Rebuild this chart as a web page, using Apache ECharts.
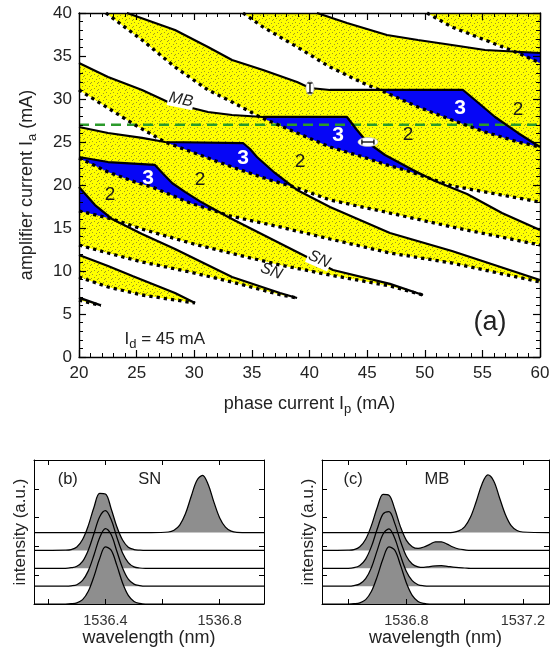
<!DOCTYPE html>
<html>
<head>
<meta charset="utf-8">
<script src="https://cdn.jsdelivr.net/npm/echarts@6.0.0/dist/echarts.min.js"></script>
<style>html,body{margin:0;padding:0;background:#fff;}#chart{width:560px;height:649px;}</style>
</head>
<body>
<div id="chart"></div>
<script>
// ===== panel (a): boundary curves, points are [phase current Ip (mA), amplifier current Ia (mA)] =====
// solid lines (SN / MB bifurcations) = upper edges of the bistability tongues
const solidMB = [[20,34.19],[22.52,32.56],[25.47,31.05],[27.72,29.65],[31.19,28.49],[33.28,28.14],[35.97,27.91],[43.25,27.91],[44.12,26.40],[44.99,25.00],[46.55,23.49],[48.98,21.74],[50.89,20.47],[53.67,18.95],[56.70,16.74],[60,14.77]];
const solidB  = [[24.16,40],[28.33,38.02],[31.19,36.05],[33.28,34.53],[35.97,33.37],[38.92,31.98],[40.04,31.28],[41.78,31.05],[53.32,31.05],[54.36,29.88],[56.10,27.91],[58.09,26.05],[60,24.42]];
const solidD  = [[40.65,40],[43.25,38.84],[46.72,37.44],[49.41,36.86],[52.36,36.28],[55.23,35.70],[60,35.35]];
const solidH  = [[20,26.74],[22.52,26.05],[25.47,25.47],[27.46,25.00],[34.23,24.88],[34.84,24.19],[35.44,23.26],[37.0,21.40],[38.92,19.42],[41.78,17.44],[46.98,14.42],[52.36,12.33],[60,8.95]];
const solidI  = [[20,23.26],[22.52,22.67],[26.59,22.33],[27.3,21.3],[28.1,20.2],[29.2,19.2],[30.5,18.1],[33.1,16.16],[39.78,11.63],[42.04,10.12],[46.98,8.5],[49.85,7.21]];
const solidK  = [[20,19.77],[21.39,17.67],[22.86,16.05],[25.47,14.30],[28.33,12.56],[33.28,9.30],[37.44,7.44],[38.92,6.86]];
const solidW  = [[20,11.86],[22.52,10.58],[24.69,9.40],[28.33,7.44],[30.07,6.28]];
const solidT  = [[20,6.9],[21.9,6.0]];
// dotted lines = lower edges of the tongues
const dotE = [[50.20,40],[52.36,38.37],[55.23,36.86],[58.09,35.35],[60,34.19]];
const dotC = [[34.23,40],[35.97,38.37],[38.92,36.05],[41.78,33.72],[44.64,31.86],[46.72,30.70],[49.41,29.07],[52.36,27.56],[55.23,26.16],[58.09,25.0],[60,24.42]];
const dotA = [[22.34,40],[25.47,36.86],[28.33,33.72],[31.19,31.05],[33.28,29.65],[35.70,27.91],[38.92,26.05],[41.78,24.42],[44.64,23.26],[46.72,22.33],[48.29,21.74],[52.36,19.9],[55.23,19.19],[60,18.02]];
const dotG = [[20,31.05],[22.52,28.95],[24.86,26.98],[27.46,25.00],[31.19,23.14],[33.28,22.09],[36.57,20.58],[38.92,19.65],[41.78,18.26],[46.98,16.74],[52.36,15.12],[60,13.02]];
const dotJ = [[20,23.14],[22.52,21.51],[24.86,20.35],[26.33,19.77],[29.63,17.91],[33.10,16.40],[37.44,15.12],[41.78,13.72],[46.98,12.09],[52.36,10.93],[60,8.72]];
const dotL = [[20,16.98],[22.86,16.05],[25.47,14.88],[29.63,13.26],[33.1,12.09],[37.44,10.70],[41.78,9.53],[46.98,8.26],[49.85,7.21]];
const dotN = [[20,13.02],[22.52,12.09],[25.47,11.05],[29.63,9.88],[33.28,8.72],[37.44,7.25],[38.92,6.86]];
const dotW = [[20,9.30],[22.52,8.14],[25.47,7.21],[28.33,6.63],[30.07,6.28]];
const dotT = [[20,6.6],[21.9,6.0]];
const dashedIa = 27;            // green dashed line, Ia = 27 mA
const xTicksA = [20, 60, 5];    // min, max, step
const yTicksA = [0, 40, 5];

// ===== panels (b) and (c): optical spectra =====
const traceOffsets = [0, 0.62, 1.24, 1.86, 2.48];
const bWave = [1536.15,1536.26,1536.28,1536.30,1536.32,1536.34,1536.36,1536.38,1536.40,1536.42,1536.44,1536.46,1536.48,1536.50,1536.52,1536.54,1536.56,1536.62,1536.64,1536.66,1536.68,1536.70,1536.72,1536.74,1536.76,1536.78,1536.80,1536.82,1536.84,1536.86,1536.955];
const bTrace1 = [0,0,0.01,0.04,0.15,0.44,0.96,1.58,1.98,1.87,1.34,0.73,0.30,0.09,0.02,0,0,0,0,0,0,0,0,0,0,0,0,0,0,0,0];
const bTrace2 = [0,0,0.01,0.05,0.20,0.53,1.08,1.69,2.00,1.79,1.21,0.63,0.24,0.07,0.02,0,0,0,0,0,0,0,0,0,0,0,0,0,0,0,0];
const bTrace3 = [0,0,0.02,0.07,0.24,0.63,1.21,1.79,2.00,1.69,1.08,0.53,0.20,0.05,0.01,0,0,0,0,0,0,0,0,0,0,0,0,0,0,0,0];
const bTrace4 = [0,0.01,0.03,0.12,0.38,0.86,1.50,1.98,1.96,1.45,0.82,0.36,0.11,0.03,0.01,0,0,0,0,0,0,0,0,0,0,0,0,0,0,0,0];
const bTrace5 = [0,0,0,0,0,0,0,0,0,0,0,0,0,0,0,0,0,0.02,0.08,0.26,0.65,1.25,1.81,1.99,1.66,1.05,0.51,0.19,0.05,0.01,0];
const cWave = [1536.51,1536.60,1536.62,1536.64,1536.66,1536.68,1536.70,1536.72,1536.74,1536.76,1536.78,1536.80,1536.82,1536.84,1536.86,1536.88,1536.90,1536.92,1536.94,1536.96,1536.98,1537.00,1537.02,1537.04,1537.06,1537.08,1537.10,1537.12,1537.14,1537.16,1537.18,1537.20,1537.29];
const cTrace1 = [0,0,0.01,0.04,0.15,0.44,0.96,1.58,1.98,1.87,1.34,0.73,0.30,0.09,0.02,0,0,0,0,0,0,0,0,0,0,0,0,0,0,0,0,0,0];
const cTrace2 = [0,0,0.02,0.08,0.26,0.65,1.25,1.81,1.99,1.66,1.05,0.51,0.19,0.05,0.01,0,0,0,0,0,0,0,0,0,0,0,0,0,0,0,0,0,0];
const cTrace3 = [0,0,0.02,0.10,0.32,0.76,1.37,1.89,1.97,1.56,0.93,0.42,0.15,0.05,0.03,0.06,0.08,0.09,0.07,0.04,0.02,0.01,0,0,0,0,0,0,0,0,0,0,0];
const cTrace4 = [0,0.01,0.03,0.13,0.39,0.87,1.50,1.95,1.92,1.44,0.81,0.35,0.13,0.07,0.12,0.21,0.30,0.30,0.22,0.12,0.05,0.02,0,0,0,0,0,0,0,0,0,0,0];
const cTrace5 = [0,0,0,0,0,0,0,0,0,0,0,0,0,0,0,0,0,0,0,0.01,0.06,0.20,0.53,1.08,1.69,2.00,1.79,1.21,0.63,0.24,0.07,0.02,0];

// ================= drawing =================
const FONT = "'Liberation Sans', Arial, Helvetica, sans-serif";
const TXT = '#222';

function lin(p, q, x) { const dx = q[0] - p[0]; return Math.abs(dx) < 1e-12 ? p[1] : p[1] + (x - p[0]) / dx * (q[1] - p[1]); }
function mk(pts) { return { pts: pts, top: pts[0][1] >= 40 - 1e-9 && pts[0][0] > 20 }; }
function ext(c) { return c.top ? [[20, 40]].concat(c.pts) : c.pts; }
function evalC(c, x) {
  const p = ext(c);
  if (x < p[0][0] - 1e-9 || x > p[p.length - 1][0] + 1e-9) return NaN;
  for (let i = 0; i < p.length - 1; i++) if (x <= p[i + 1][0] + 1e-12) return lin(p[i], p[i + 1], Math.max(x, p[i][0]));
  return p[p.length - 1][1];
}
function crossings(a, b) {
  const out = [];
  for (let i = 0; i < a.length - 1; i++) for (let j = 0; j < b.length - 1; j++) {
    const x0 = Math.max(a[i][0], b[j][0]), x1 = Math.min(a[i + 1][0], b[j + 1][0]);
    if (x1 <= x0) continue;
    const d0 = lin(a[i], a[i + 1], x0) - lin(b[j], b[j + 1], x0);
    const d1 = lin(a[i], a[i + 1], x1) - lin(b[j], b[j + 1], x1);
    if (d0 * d1 < 0) out.push(x0 + (x1 - x0) * d0 / (d0 - d1));
  }
  return out;
}
const TOPC = mk([[20, 40], [60, 40]]);
function region(los, his) {
  const H = his.concat([TOPC]);
  const all = los.concat(H);
  let xs = [20, 60];
  all.forEach(c => ext(c).forEach(p => xs.push(p[0])));
  for (let i = 0; i < all.length; i++) for (let j = i + 1; j < all.length; j++) crossings(ext(all[i]), ext(all[j])).forEach(x => xs.push(x));
  xs.sort((a, b) => a - b);
  const u = [];
  xs.forEach(x => { if (x < 20 - 1e-9 || x > 60 + 1e-9) return; if (!u.length || x - u[u.length - 1] > 1e-9) u.push(x); });
  const q = u.map(x => {
    let lo = -Infinity, hi = Infinity, ok = true;
    los.forEach(c => { const v = evalC(c, x); if (isNaN(v)) ok = false; else lo = Math.max(lo, v); });
    H.forEach(c => { const v = evalC(c, x); if (isNaN(v)) ok = false; else hi = Math.min(hi, v); });
    return { x: x, lo: lo, hi: hi, ok: ok, d: ok ? hi - lo : -Infinity };
  });
  const runs = []; let run = null;
  for (let k = 0; k < q.length; k++) {
    const e = q[k];
    if (e.ok && e.d > 1e-6) {
      if (!run) { run = []; const pr = q[k - 1]; if (pr && pr.ok && Math.abs(pr.d) < 1e-3) run.push(pr); }
      run.push(e);
    } else if (run) {
      if (e.ok && Math.abs(e.d) < 1e-3) run.push(e);
      runs.push(run); run = null;
    }
  }
  if (run) runs.push(run);
  return runs.map(r => r.map(e => [e.x, e.hi]).concat(r.slice().reverse().map(e => [e.x, e.lo])));
}

const tongues = [
  [dotE, null], [dotC, solidD], [dotA, solidB], [dotG, solidMB], [dotJ, solidH],
  [dotL, solidI], [dotN, solidK], [dotW, solidW], [dotT, solidT]
].map(t => ({ lo: mk(t[0]), hi: t[1] ? mk(t[1]) : null }));

let yellowPolys = [], bluePolys = [];
tongues.forEach(t => { yellowPolys = yellowPolys.concat(region([t.lo], t.hi ? [t.hi] : [])); });
for (let i = 0; i < tongues.length; i++) for (let j = i + 1; j < tongues.length; j++) {
  const a = tongues[i], b = tongues[j];
  bluePolys = bluePolys.concat(region([a.lo, b.lo], [a.hi, b.hi].filter(Boolean)));
}

function speckle(base, dot) {
  const c = document.createElement('canvas'); c.width = 7; c.height = 7;
  const g = c.getContext('2d'); g.fillStyle = base; g.fillRect(0, 0, 7, 7);
  g.fillStyle = dot; [[1, 1], [5, 2], [3, 4], [0, 5], [6, 6]].forEach(p => g.fillRect(p[0], p[1], 1, 1));
  return { image: c, repeat: 'repeat' };
}
const yellowFill = speckle('#ffff00', '#9d9a20');
const blueFill = '#0606f6';

function polySeries(polys, fill, z) {
  return {
    type: 'custom', xAxisIndex: 0, yAxisIndex: 0, z: z, silent: true, clip: true,
    data: polys.map(p => p[0]),
    renderItem: (params, api) => ({ type: 'polygon', shape: { points: polys[params.dataIndex].map(p => api.coord(p)) }, style: { fill: fill } })
  };
}
function lineSeries(pts, dotted) {
  return {
    type: 'line', xAxisIndex: 0, yAxisIndex: 0, data: pts, showSymbol: false, symbol: 'none', silent: true, z: 5, clip: true,
    lineStyle: dotted ? { color: '#000', width: 3.3, type: [3.3, 4], cap: 'butt' } : { color: '#000', width: 2.2 }
  };
}
function textSeries(items, xi, yi) {
  return {
    type: 'custom', xAxisIndex: xi, yAxisIndex: yi, z: 8, silent: true, clip: false,
    data: items.map(it => [it.x, it.y]),
    renderItem: (params, api) => {
      const it = items[params.dataIndex];
      const p = api.coord([it.x, it.y]);
      return { type: 'text', x: p[0], y: p[1], rotation: it.rot || 0,
        style: Object.assign({ text: it.text, fontFamily: FONT, fontSize: 16, fill: TXT, align: it.align || 'center', verticalAlign: 'middle' }, it.style || {}) };
    }
  };
}

const twoPos = [[22.69, 18.84], [30.5, 20.58], [39.18, 22.67], [48.55, 25.81], [58.09, 28.72]];
const threePos = [[25.99, 20.81], [34.23, 23.14], [42.47, 25.81], [53.06, 28.95]];
const aLabels = []
  .concat(twoPos.map(p => ({ x: p[0], y: p[1], text: '2', style: { fontSize: 19, fill: '#1a1a1a' } })))
  .concat(threePos.map(p => ({ x: p[0], y: p[1], text: '3', style: { fontSize: 21, fontWeight: 'bold', fill: '#fff' } })))
  .concat([
    { x: 28.85, y: 29.9, text: 'MB', rot: -0.2, style: { fontSize: 16, fontStyle: 'italic', backgroundColor: '#fff', padding: [0, 1, 0, 1] } },
    { x: 40.85, y: 11.36, text: 'SN', rot: -0.42, style: { fontSize: 16, fontStyle: 'italic', backgroundColor: '#fff', padding: [0, 1, 0, 1] } },
    { x: 36.69, y: 9.97, text: 'SN', rot: -0.36, style: { fontSize: 16, fontStyle: 'italic' } },
    { x: 23.95, y: 2.0, text: '{i|I}{s|d}{i| = 45 mA}', align: 'left', style: { rich: {
        i: { fontSize: 17, fontFamily: FONT, fill: TXT, lineHeight: 22, verticalAlign: 'middle' },
        s: { fontSize: 13, fontFamily: FONT, fill: TXT, lineHeight: 13, verticalAlign: 'bottom' } } } },
    { x: 55.66, y: 3.95, text: '(a)', style: { fontSize: 27 } }
  ]);

const errMarks = [[40.04, 31.28, 'v'], [45.07, 25.0, 'h']];
const markSeries = {
  type: 'custom', xAxisIndex: 0, yAxisIndex: 0, z: 9, silent: true,
  data: errMarks.map(m => [m[0], m[1]]),
  renderItem: (params, api) => {
    const m = errMarks[params.dataIndex];
    const p = api.coord([m[0], m[1]]);
    const st = { stroke: '#000', lineWidth: 1.3 };
    if (m[2] === 'v') return { type: 'group', children: [
      { type: 'ellipse', shape: { cx: p[0], cy: p[1], rx: 4, ry: 7 }, style: { fill: '#fff', stroke: '#aaa', lineWidth: 0.6 } },
      { type: 'line', shape: { x1: p[0], y1: p[1] - 5, x2: p[0], y2: p[1] + 5 }, style: st },
      { type: 'line', shape: { x1: p[0] - 2.5, y1: p[1] - 5, x2: p[0] + 2.5, y2: p[1] - 5 }, style: st },
      { type: 'line', shape: { x1: p[0] - 2.5, y1: p[1] + 5, x2: p[0] + 2.5, y2: p[1] + 5 }, style: st } ] };
    return { type: 'group', children: [
      { type: 'ellipse', shape: { cx: p[0], cy: p[1], rx: 10, ry: 4.5 }, style: { fill: '#fff', stroke: '#aaa', lineWidth: 0.6 } },
      { type: 'line', shape: { x1: p[0] - 6, y1: p[1], x2: p[0] + 6, y2: p[1] }, style: st },
      { type: 'line', shape: { x1: p[0] - 6, y1: p[1] - 2.5, x2: p[0] - 6, y2: p[1] + 2.5 }, style: st },
      { type: 'line', shape: { x1: p[0] + 6, y1: p[1] - 2.5, x2: p[0] + 6, y2: p[1] + 2.5 }, style: st } ] };
  }
};

const axLine = { show: true, onZero: false, lineStyle: { color: '#000', width: 1.4 } };
function mainX(pos, labels) {
  return { type: 'value', gridIndex: 0, position: pos, min: xTicksA[0], max: xTicksA[1], interval: xTicksA[2], z: 10,
    axisLine: axLine, splitLine: { show: false },
    axisTick: { show: true, inside: true, length: 7, lineStyle: { color: '#000', width: 1.2 } },
    minorTick: { show: true, splitNumber: 5, length: 4, lineStyle: { color: '#000', width: 1 } },
    axisLabel: { show: labels, fontSize: 17, fontFamily: FONT, color: TXT, margin: 8 },
    name: labels ? '{t|phase current I}{s|p}{t| (mA)}' : '', nameLocation: 'middle', nameGap: 35,
    nameTextStyle: { rich: { t: { fontSize: 18, fontFamily: FONT, color: TXT, lineHeight: 24 }, s: { fontSize: 13, fontFamily: FONT, color: TXT, lineHeight: 14, verticalAlign: 'bottom' } } } };
}
function mainY(pos, labels) {
  return { type: 'value', gridIndex: 0, position: pos, min: yTicksA[0], max: yTicksA[1], interval: yTicksA[2], z: 10,
    axisLine: axLine, splitLine: { show: false },
    axisTick: { show: true, inside: true, length: 7, lineStyle: { color: '#000', width: 1.2 } },
    minorTick: { show: true, splitNumber: 5, length: 4, lineStyle: { color: '#000', width: 1 } },
    axisLabel: { show: labels, fontSize: 17, fontFamily: FONT, color: TXT, margin: 7 },
    name: labels ? '{t|amplifier current I}{s|a}{t| (mA)}' : '', nameLocation: 'middle', nameGap: 40, nameRotate: 90,
    nameTextStyle: { rich: { t: { fontSize: 18, fontFamily: FONT, color: TXT, lineHeight: 24 }, s: { fontSize: 13, fontFamily: FONT, color: TXT, lineHeight: 14, verticalAlign: 'bottom' } } } };
}
function specX(gi, pos, min, max, ticks, labels, showLabels) {
  return { type: 'value', gridIndex: gi, position: pos, min: min, max: max, z: 10,
    axisLine: { show: true, onZero: false, lineStyle: { color: '#000', width: 1 } }, splitLine: { show: false },
    axisTick: { show: true, inside: true, length: 5, customValues: ticks, lineStyle: { color: '#000' } },
    axisLabel: { show: showLabels, customValues: labels, fontSize: 14.5, fontFamily: FONT, color: '#333', margin: 9, formatter: v => v.toFixed(1) },
    name: showLabels ? 'wavelength (nm)' : '', nameLocation: 'middle', nameGap: 25,
    nameTextStyle: { fontSize: 18, fontFamily: FONT, color: TXT } };
}
function specY(gi, pos, showName) {
  return { type: 'value', gridIndex: gi, position: pos, min: 0, max: 5, interval: 1, z: 10,
    axisLine: { show: true, onZero: false, lineStyle: { color: '#000', width: 1 } }, splitLine: { show: false },
    axisTick: { show: true, inside: true, length: 5, lineStyle: { color: '#000' } },
    axisLabel: { show: false },
    name: showName ? 'intensity (a.u.)' : '', nameLocation: 'middle', nameGap: 5,
    nameTextStyle: { fontSize: 17, fontFamily: FONT, color: TXT } };
}
function specSeries(xi, wave, traces) {
  const out = [];
  for (let k = traces.length - 1; k >= 0; k--) {
    const off = traceOffsets[k];
    out.push({ type: 'line', xAxisIndex: xi, yAxisIndex: xi, data: wave.map((w, i) => [w, off + traces[k][i]]),
      showSymbol: false, symbol: 'none', smooth: 0.35, silent: true, z: 3,
      lineStyle: { color: '#000', width: 1.25 },
      areaStyle: { color: '#8e8e8e', opacity: 1, origin: off } });
  }
  return out;
}

const chart = echarts.init(document.getElementById('chart'), null, { renderer: 'canvas' });
chart.setOption({
  animation: false,
  backgroundColor: '#fff',
  grid: [
    { left: 79, top: 13, width: 461, height: 344 },
    { left: 34, top: 460, width: 230, height: 144 },
    { left: 322, top: 460, width: 227, height: 144 }
  ],
  xAxis: [
    mainX('bottom', true), mainX('top', false),
    specX(1, 'bottom', 1536.15, 1536.955, [1536.2, 1536.4, 1536.6, 1536.8], [1536.4, 1536.8], true),
    specX(1, 'top', 1536.15, 1536.955, [1536.2, 1536.4, 1536.6, 1536.8], [1536.4, 1536.8], false),
    specX(2, 'bottom', 1536.51, 1537.29, [1536.6, 1536.8, 1537.0, 1537.2], [1536.8, 1537.2], true),
    specX(2, 'top', 1536.51, 1537.29, [1536.6, 1536.8, 1537.0, 1537.2], [1536.8, 1537.2], false)
  ],
  yAxis: [
    mainY('left', true), mainY('right', false),
    specY(1, 'left', true), specY(1, 'right', false),
    specY(2, 'left', true), specY(2, 'right', false)
  ],
  series: [].concat(
    [polySeries(yellowPolys, yellowFill, 1), polySeries(bluePolys, blueFill, 2)],
    [{ type: 'line', xAxisIndex: 0, yAxisIndex: 0, data: [[xTicksA[0], dashedIa], [xTicksA[1], dashedIa]], showSymbol: false, symbol: 'none', silent: true, z: 4,
       lineStyle: { color: '#2b9a2b', width: 2.6, type: [10, 6] } }],
    [solidMB, solidB, solidD, solidH, solidI, solidK, solidW, solidT].map(c => lineSeries(c, false)),
    [dotE, dotC, dotA, dotG, dotJ, dotL, dotN, dotW, dotT].map(c => lineSeries(c, true)),
    [markSeries, textSeries(aLabels, 0, 0)],
    specSeries(2, bWave, [bTrace1, bTrace2, bTrace3, bTrace4, bTrace5]),
    specSeries(4, cWave, [cTrace1, cTrace2, cTrace3, cTrace4, cTrace5]),
    [textSeries([{ x: 1536.268, y: 4.31, text: '(b)', style: { fontSize: 16.5 } }, { x: 1536.555, y: 4.31, text: 'SN', style: { fontSize: 16.5 } }], 2, 2),
     textSeries([{ x: 1536.617, y: 4.31, text: '(c)', style: { fontSize: 16.5 } }, { x: 1536.905, y: 4.31, text: 'MB', style: { fontSize: 16.5 } }], 4, 4)]
  )
});
</script>
</body>
</html>
